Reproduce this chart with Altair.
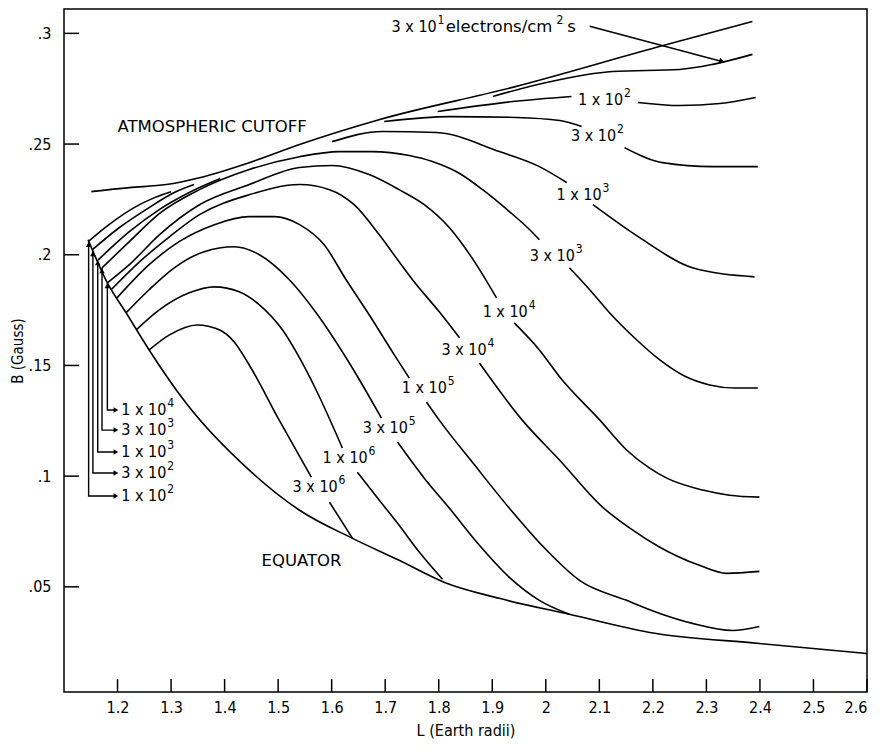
import altair as alt
import pandas as pd

FONT = "DejaVu Sans Condensed, DejaVu Sans, sans-serif"
FONT_W = "DejaVu Sans, sans-serif"

# ---------------- data (L in Earth radii, B in Gauss) ----------------
x_ticks = [1.2, 1.3, 1.4, 1.5, 1.6, 1.7, 1.8, 1.9, 2.0, 2.1, 2.2, 2.3, 2.4, 2.5, 2.6]
y_ticks = [0.05, 0.10, 0.15, 0.20, 0.25, 0.30]

equator_L = [1.145, 1.181, 1.216, 1.259, 1.328, 1.446, 1.540, 1.639, 1.726, 1.811, 1.913, 2.044, 2.194, 2.399, 2.600]
equator_B = [0.2068, 0.1873, 0.1738, 0.1570, 0.1330, 0.1027, 0.0846, 0.0719, 0.0620, 0.0520, 0.0448, 0.0376, 0.0294, 0.0244, 0.0199]

cutoff_L = [1.151, 1.222, 1.291, 1.353, 1.446, 1.540, 1.690, 1.938, 2.207, 2.386]
cutoff_B = [0.2285, 0.2303, 0.2317, 0.2348, 0.2416, 0.2498, 0.2611, 0.2756, 0.2937, 0.3054]

c3e1_L = [1.901, 2.001, 2.125, 2.250, 2.312, 2.386]
c3e1_B = [0.2715, 0.2778, 0.2828, 0.2837, 0.2860, 0.2905]

c1e2_left_L = [1.145, 1.184, 1.231, 1.269, 1.300]
c1e2_left_B = [0.2059, 0.2136, 0.2213, 0.2258, 0.2285]
c1e2_ra_L = [1.798, 1.938, 2.048]
c1e2_ra_B = [0.2647, 0.2692, 0.2715]
c1e2_rb_L = [2.172, 2.250, 2.325, 2.392]
c1e2_rb_B = [0.2688, 0.2674, 0.2683, 0.2710]

c3e2_left_L = [1.153, 1.203, 1.259, 1.306, 1.343]
c3e2_left_B = [0.2023, 0.2122, 0.2213, 0.2281, 0.2317]
c3e2_ra_L = [1.698, 1.820, 1.945, 2.026, 2.067]
c3e2_ra_B = [0.2602, 0.2624, 0.2620, 0.2606, 0.2579]
c3e2_rb_L = [2.147, 2.218, 2.312, 2.396]
c3e2_rb_B = [0.2484, 0.2416, 0.2398, 0.2398]

c1e3_left_L = [1.164, 1.222, 1.278, 1.334, 1.392]
c1e3_left_B = [0.1977, 0.2104, 0.2204, 0.2281, 0.2344]
c1e3_ra_L = [1.601, 1.695, 1.796, 1.913, 1.988, 2.039]
c1e3_ra_B = [0.2511, 0.2557, 0.2552, 0.2466, 0.2398, 0.2326]
c1e3_rb_L = [2.088, 2.181, 2.274, 2.390]
c1e3_rb_B = [0.2226, 0.2068, 0.1941, 0.1900]

c3e3_a_L = [1.171, 1.222, 1.278, 1.353, 1.446, 1.540, 1.614, 1.676, 1.745, 1.788, 1.839, 1.882, 1.932, 1.970, 1.988]
c3e3_a_B = [0.1941, 0.2059, 0.2186, 0.2294, 0.2385, 0.2443, 0.2466, 0.2466, 0.2448, 0.2421, 0.2367, 0.2294, 0.2195, 0.2113, 0.2068]
c3e3_b_L = [2.044, 2.082, 2.119, 2.166, 2.213, 2.259, 2.306, 2.353, 2.396]
c3e3_b_B = [0.1941, 0.1842, 0.1738, 0.1624, 0.1525, 0.1452, 0.1412, 0.1398, 0.1398]

c1e4_a_L = [1.181, 1.222, 1.278, 1.353, 1.446, 1.540, 1.601, 1.670, 1.726, 1.773, 1.820, 1.867, 1.908]
c1e4_a_B = [0.1873, 0.1955, 0.2090, 0.2226, 0.2317, 0.2394, 0.2403, 0.2362, 0.2294, 0.2226, 0.2122, 0.1968, 0.1805]
c1e4_b_L = [1.941, 1.988, 2.026, 2.101, 2.151, 2.194, 2.226, 2.293, 2.343, 2.399]
c1e4_b_B = [0.1692, 0.1570, 0.1448, 0.1253, 0.1118, 0.1036, 0.0991, 0.0937, 0.0914, 0.0905]

c3e4_a_L = [1.188, 1.241, 1.297, 1.353, 1.446, 1.540, 1.596, 1.642, 1.689, 1.726, 1.751, 1.801, 1.839]
c3e4_a_B = [0.1842, 0.1968, 0.2081, 0.2181, 0.2271, 0.2317, 0.2294, 0.2226, 0.2090, 0.1968, 0.1887, 0.1742, 0.1624]
c3e4_b_L = [1.876, 1.956, 2.026, 2.106, 2.157, 2.213, 2.287, 2.338, 2.399]
c3e4_b_B = [0.1511, 0.1253, 0.1072, 0.0860, 0.0765, 0.0679, 0.0597, 0.0561, 0.0570]

c1e5_a_L = [1.199, 1.259, 1.315, 1.381, 1.446, 1.493, 1.540, 1.586, 1.627, 1.670, 1.717, 1.745]
c1e5_a_B = [0.1805, 0.1955, 0.2059, 0.2136, 0.2172, 0.2172, 0.2136, 0.2045, 0.1887, 0.1729, 0.1548, 0.1443]
c1e5_b_L = [1.777, 1.801, 1.867, 1.932, 1.998, 2.063, 2.151, 2.213, 2.274, 2.349, 2.399]
c1e5_b_B = [0.1335, 0.1253, 0.1050, 0.0855, 0.0674, 0.0529, 0.0439, 0.0380, 0.0335, 0.0303, 0.0321]

c3e5_a_L = [1.216, 1.259, 1.306, 1.362, 1.418, 1.465, 1.521, 1.571, 1.633, 1.693]
c3e5_a_B = [0.1738, 0.1842, 0.1941, 0.2014, 0.2036, 0.2000, 0.1887, 0.1738, 0.1511, 0.1262]
c3e5_b_L = [1.723, 1.773, 1.820, 1.876, 1.932, 1.988, 2.044]
c3e5_b_B = [0.1154, 0.0991, 0.0855, 0.0688, 0.0543, 0.0439, 0.0376]

c1e6_a_L = [1.235, 1.278, 1.334, 1.381, 1.427, 1.465, 1.508, 1.540, 1.571, 1.620]
c1e6_a_B = [0.1661, 0.1751, 0.1828, 0.1855, 0.1833, 0.1774, 0.1661, 0.1534, 0.1389, 0.1127]
c1e6_b_L = [1.648, 1.689, 1.726, 1.764, 1.807]
c1e6_b_B = [0.1018, 0.0891, 0.0778, 0.0656, 0.0534]

c3e6_a_L = [1.259, 1.297, 1.349, 1.390, 1.418, 1.446, 1.502, 1.562]
c3e6_a_B = [0.1570, 0.1638, 0.1683, 0.1661, 0.1606, 0.1502, 0.1253, 0.0995]
c3e6_b_L = [1.596, 1.639]
c3e6_b_B = [0.0882, 0.0719]

# contour labels (left edge of text) placed on the curves
label_base = ["1 x 10", "3 x 10", "1 x 10", "3 x 10", "1 x 10", "3 x 10",
              "1 x 10", "3 x 10", "1 x 10", "3 x 10"]
label_exp = ["2", "2", "3", "3", "4", "4", "5", "5", "6", "6"]
label_L = [2.060, 2.047, 2.020, 1.970, 1.882, 1.805, 1.731, 1.658, 1.583, 1.527]
label_B = [0.2700, 0.2538, 0.2271, 0.1995, 0.1742, 0.1570, 0.1398, 0.1217, 0.1081, 0.0950]

# leader-arrow labels at the left
lead_base = ["1 x 10", "3 x 10", "1 x 10", "3 x 10", "1 x 10"]
lead_exp = ["4", "3", "3", "2", "2"]
lead_tip_L = [1.181, 1.171, 1.163, 1.154, 1.146]
lead_tip_B = [0.1873, 0.1941, 0.1977, 0.2018, 0.2059]
lead_B = [0.1299, 0.1208, 0.1109, 0.1014, 0.0910]
lead_end_L = 1.197
lead_text_L = 1.207

# flux-unit annotation and its arrow
unit_base = ["3 x 10", "electrons/cm"]
unit_base_L = [1.712, 1.813]
unit_exp = ["1", "2"]
unit_exp_L = [1.797, 2.020]
unit_tail = "s"
unit_tail_L = 2.040
unit_B = 0.3027
unit_arrow_L = [2.082, 2.329]
unit_arrow_B = [0.3032, 0.2873]

names = ["ATMOSPHERIC CUTOFF", "EQUATOR"]
names_L = [1.200, 1.469]
names_B = [0.2575, 0.0615]

# ---------------- build tables ----------------
segments = [
    (equator_L, equator_B), (cutoff_L, cutoff_B), (c3e1_L, c3e1_B),
    (c1e2_left_L, c1e2_left_B), (c1e2_ra_L, c1e2_ra_B), (c1e2_rb_L, c1e2_rb_B),
    (c3e2_left_L, c3e2_left_B), (c3e2_ra_L, c3e2_ra_B), (c3e2_rb_L, c3e2_rb_B),
    (c1e3_left_L, c1e3_left_B), (c1e3_ra_L, c1e3_ra_B), (c1e3_rb_L, c1e3_rb_B),
    (c3e3_a_L, c3e3_a_B), (c3e3_b_L, c3e3_b_B),
    (c1e4_a_L, c1e4_a_B), (c1e4_b_L, c1e4_b_B),
    (c3e4_a_L, c3e4_a_B), (c3e4_b_L, c3e4_b_B),
    (c1e5_a_L, c1e5_a_B), (c1e5_b_L, c1e5_b_B),
    (c3e5_a_L, c3e5_a_B), (c3e5_b_L, c3e5_b_B),
    (c1e6_a_L, c1e6_a_B), (c1e6_b_L, c1e6_b_B),
    (c3e6_a_L, c3e6_a_B), (c3e6_b_L, c3e6_b_B),
]
rows = []
for s, (Ls, Bs) in enumerate(segments):
    for i, (l, b) in enumerate(zip(Ls, Bs)):
        rows.append({"seg": s, "i": i, "L": l, "B": b})
curves = pd.DataFrame(rows)

lead_rows = []
for k in range(len(lead_base)):
    pts = [(lead_tip_L[k], lead_tip_B[k]), (lead_tip_L[k], lead_B[k]), (lead_end_L, lead_B[k])]
    for i, (l, b) in enumerate(pts):
        lead_rows.append({"seg": 100 + k, "i": i, "L": l, "B": b})
lead_rows += [{"seg": 200, "i": i, "L": l, "B": b} for i, (l, b) in enumerate(zip(unit_arrow_L, unit_arrow_B))]
leaders = pd.DataFrame(lead_rows)

heads_right = pd.DataFrame({"L": [lead_end_L] * len(lead_B), "B": lead_B})
heads_up = pd.DataFrame({"L": lead_tip_L, "B": lead_tip_B})
head_unit = pd.DataFrame({"L": [unit_arrow_L[-1]], "B": [unit_arrow_B[-1]]})

base_df = pd.DataFrame({"L": label_L + [lead_text_L] * len(lead_base) + [unit_base_L[0]],
                        "B": label_B + lead_B + [unit_B],
                        "t": label_base + lead_base + [unit_base[0]],
                        "e": label_exp + lead_exp + [unit_exp[0]]})
small_df = pd.DataFrame({"L": [unit_base_L[1], unit_tail_L], "B": [unit_B, unit_B],
                         "t": [unit_base[1], unit_tail]})
exp2_df = pd.DataFrame({"L": [unit_exp_L[1]], "B": [unit_B], "t": [unit_exp[1]]})
namedf = pd.DataFrame({"L": names_L, "B": names_B, "t": names})

xt = pd.DataFrame({"L": x_ticks})
yt = pd.DataFrame({"B": y_ticks})

W, H = 803, 683
xs = alt.Scale(domain=[1.1, 2.6], nice=False, zero=False)
ys = alt.Scale(domain=[0.0025, 0.311], nice=False, zero=False)

x_axis = alt.Axis(values=x_ticks, labelExpr="format(datum.value, '.1~f')", ticks=False, tickSize=0,
                  domain=False, grid=False, labelPadding=7, labelFont=FONT, labelFontSize=16,
                  labelColor="black", title="L (Earth radii)", titleFont=FONT, titleFontSize=16,
                  titleFontWeight="normal", titleColor="black", titlePadding=7)
y_axis = alt.Axis(values=y_ticks, labelExpr="slice(format(datum.value, '.2~f'), 1)", ticks=False,
                  tickSize=0, domain=False, grid=False, labelPadding=13, labelFont=FONT,
                  labelFontSize=16, labelColor="black", title="B (Gauss)", titleFont=FONT,
                  titleFontSize=15, titleFontWeight="normal", titleColor="black", titlePadding=3)


def X():
    return alt.X("L:Q", scale=xs, axis=x_axis)


def Y():
    return alt.Y("B:Q", scale=ys, axis=y_axis)


lines = alt.Chart(curves).mark_line(color="black", strokeWidth=1.6, interpolate="monotone").encode(
    x=X(), y=Y(), detail="seg:N", order="i:Q")

lead_lines = alt.Chart(leaders).mark_line(color="black", strokeWidth=1.4).encode(
    x=X(), y=Y(), detail="seg:N", order="i:Q")

h_right = alt.Chart(heads_right).mark_point(shape="triangle-right", filled=True, size=30,
                                            color="black", opacity=1).encode(x=X(), y=Y())
h_up = alt.Chart(heads_up).mark_point(shape="triangle-up", filled=True, size=30,
                                      color="black", opacity=1, yOffset=3).encode(x=X(), y=Y())
h_unit = alt.Chart(head_unit).mark_point(shape="triangle-right", filled=True, size=40, angle=15,
                                         color="black", opacity=1).encode(x=X(), y=Y())

txt_base = alt.Chart(base_df).mark_text(font=FONT, fontSize=16, color="black", align="left",
                                        baseline="middle").encode(x=X(), y=Y(), text="t:N")
txt_exp = alt.Chart(base_df).mark_text(font=FONT, fontSize=12, color="black", align="left",
                                       baseline="middle", dx=46, dy=-7).encode(x=X(), y=Y(), text="e:N")
txt_small = alt.Chart(small_df).mark_text(font=FONT_W, fontSize=16.5, color="black", align="left",
                                          baseline="middle").encode(x=X(), y=Y(), text="t:N")
txt_exp2 = alt.Chart(exp2_df).mark_text(font=FONT, fontSize=12, color="black", align="left",
                                        baseline="middle", dy=-7).encode(x=X(), y=Y(), text="t:N")
txt_names = alt.Chart(namedf).mark_text(font=FONT_W, fontSize=16.5, color="black", align="left",
                                        baseline="middle").encode(x=X(), y=Y(), text="t:N")

x_tick_marks = alt.Chart(xt).mark_rule(color="black", strokeWidth=1.5).encode(
    x=X(), y=alt.value(H), y2=alt.value(H - 13))
y_tick_marks = alt.Chart(yt).mark_rule(color="black", strokeWidth=1.5).encode(
    y=Y(), x=alt.value(0), x2=alt.value(15))

chart = alt.layer(
    lines, lead_lines, h_right, h_up, h_unit, txt_base, txt_exp, txt_small, txt_exp2, txt_names,
    x_tick_marks, y_tick_marks
).properties(
    width=W, height=H,
    autosize=alt.AutoSizeParams(type="none"),
    padding={"left": 56, "top": 1, "right": 6, "bottom": 50},
    background="white",
).configure_view(stroke="black", strokeWidth=1.5)

chart.save("out.html", embed_options={"renderer": "svg", "actions": False})
